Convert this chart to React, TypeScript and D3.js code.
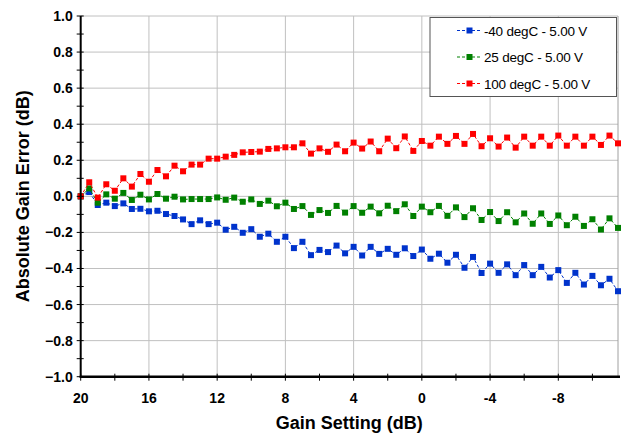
import React from "react";
import * as d3 from "d3";

const gainSettings: number[] = d3.range(64).map((i) => 20 - 0.5 * i);

const seriesNames = ["-40 degC - 5.00 V", "25 degC - 5.00 V", "100 degC - 5.00 V"];
const seriesColors = ["#0033cc", "#008000", "#ff0000"];

const coldValues = [
  0, 0.024, -0.048, -0.035, -0.054, -0.039, -0.07, -0.069, -0.083, -0.08, -0.098, -0.109, -0.128, -0.154, -0.133, -0.154,
  -0.146, -0.185, -0.169, -0.202, -0.182, -0.224, -0.207, -0.252, -0.224, -0.287, -0.252, -0.326, -0.297, -0.309, -0.273, -0.316,
  -0.28, -0.328, -0.28, -0.319, -0.291, -0.324, -0.288, -0.331, -0.295, -0.346, -0.318, -0.368, -0.324, -0.396, -0.336, -0.425,
  -0.373, -0.424, -0.377, -0.437, -0.381, -0.437, -0.391, -0.45, -0.409, -0.48, -0.424, -0.489, -0.441, -0.493, -0.457, -0.526,
];
const roomValues = [
  0, 0.044, -0.035, 0.011, -0.013, 0.019, -0.02, 0.009, -0.017, 0.013, -0.013, -0.002, -0.017, -0.015, -0.015, -0.015,
  -0.006, -0.019, -0.007, -0.03, -0.017, -0.042, -0.024, -0.055, -0.035, -0.07, -0.054, -0.103, -0.076, -0.092, -0.053, -0.09,
  -0.054, -0.091, -0.057, -0.094, -0.052, -0.082, -0.044, -0.109, -0.057, -0.088, -0.053, -0.108, -0.061, -0.115, -0.066, -0.131,
  -0.087, -0.137, -0.088, -0.144, -0.095, -0.152, -0.095, -0.153, -0.106, -0.16, -0.113, -0.164, -0.127, -0.184, -0.122, -0.175,
];
const hotValues = [
  0, 0.078, -0.007, 0.067, 0.031, 0.1, 0.054, 0.124, 0.081, 0.146, 0.111, 0.17, 0.139, 0.176, 0.176, 0.209,
  0.209, 0.22, 0.23, 0.244, 0.246, 0.248, 0.263, 0.266, 0.272, 0.272, 0.294, 0.237, 0.266, 0.247, 0.287, 0.25,
  0.298, 0.265, 0.304, 0.25, 0.32, 0.267, 0.332, 0.252, 0.307, 0.281, 0.331, 0.291, 0.335, 0.291, 0.346, 0.278,
  0.322, 0.276, 0.326, 0.27, 0.331, 0.281, 0.331, 0.281, 0.337, 0.281, 0.331, 0.281, 0.331, 0.285, 0.337, 0.294,
];

const xTicks = [20, 16, 12, 8, 4, 0, -4, -8];
const xMinorTicks = d3.range(20, -11.5, -2);
const yTicks = d3.range(-1, 1.0001, 0.2);
const yMinorTicks = d3.range(-1, 1.0001, 0.1);

const W = 623;
const H = 433;
const left = 80.7;
const right = 618;
const top = 16;
const bottom = 376.7;

export default function App() {
  const x = d3.scaleLinear().domain([20, -11.5]).range([left, right]);
  const y = d3.scaleLinear().domain([-1, 1]).range([bottom, top]);
  const allSeries = [coldValues, roomValues, hotValues];
  const line = d3
    .line<number>()
    .x((_, i) => x(gainSettings[i]))
    .y((d) => y(d));
  const font = "'Liberation Sans', Arial, sans-serif";
  const ms = 6;

  return (
    <svg width={W} height={H} style={{ position: "absolute", left: 0, top: 0, background: "#fff" }} fontFamily={font}>
      <rect x={0} y={0} width={W} height={H} fill="#fff" />
      {/* grid */}
      {yTicks.map((t, i) => (
        <line key={"gy" + i} x1={left} x2={right} y1={y(t)} y2={y(t)} stroke="#c0c0c0" strokeWidth={1} />
      ))}
      {xTicks.slice(1).map((t, i) => (
        <line key={"gx" + i} x1={x(t)} x2={x(t)} y1={top} y2={bottom} stroke="#c0c0c0" strokeWidth={1} />
      ))}
      <line x1={right} x2={right} y1={top} y2={bottom} stroke="#a0a0a0" strokeWidth={1} />
      {/* series */}
      {allSeries.map((vals, si) => (
        <g key={"s" + si}>
          <path d={line(vals) || ""} fill="none" stroke={seriesColors[si]} strokeWidth={1} strokeDasharray="3,2" />
          {vals.map((v, i) => (
            <rect
              key={i}
              x={x(gainSettings[i]) - ms / 2}
              y={y(v) - ms / 2}
              width={ms}
              height={ms}
              fill={seriesColors[si]}
            />
          ))}
        </g>
      ))}
      {/* axes */}
      <line x1={left} x2={left} y1={top} y2={bottom + 1} stroke="#000" strokeWidth={2} />
      <line x1={left - 1} x2={right + 2} y1={bottom} y2={bottom} stroke="#000" strokeWidth={2.5} />
      {yMinorTicks.map((t, i) => (
        <line key={"ty" + i} x1={left - 4} x2={left + 3} y1={y(t)} y2={y(t)} stroke="#000" strokeWidth={1} />
      ))}
      {xMinorTicks.map((t, i) => (
        <line key={"tx" + i} x1={x(t)} x2={x(t)} y1={bottom - 3} y2={bottom + 4} stroke="#000" strokeWidth={1} />
      ))}
      {yTicks.map((t, i) => (
        <text key={"ly" + i} x={left - 8} y={y(t) + 5} textAnchor="end" fontSize={14} fontWeight="bold" fill="#000">
          {d3.format(".1f")(Math.abs(t) < 1e-9 ? 0 : t)}
        </text>
      ))}
      {xTicks.map((t, i) => (
        <text key={"lx" + i} x={x(t)} y={bottom + 26} textAnchor="middle" fontSize={14} fontWeight="bold" fill="#000">
          {t}
        </text>
      ))}
      <text x={(left + right) / 2} y={429} textAnchor="middle" fontSize={18} fontWeight="bold" fill="#000">
        Gain Setting (dB)
      </text>
      <text
        transform={`translate(29, ${(top + bottom) / 2}) rotate(-90)`}
        textAnchor="middle"
        fontSize={18}
        fontWeight="bold"
        fill="#000"
      >
        Absolute Gain Error (dB)
      </text>
      {/* legend */}
      <g>
        <rect x={430} y={17.5} width={186.5} height={79} fill="#fff" stroke="#555" strokeWidth={1} />
        {seriesNames.map((name, i) => (
          <g key={"lg" + i} transform={`translate(0, ${30.5 + i * 26.5})`}>
            <line x1={457} x2={482} y1={0} y2={0} stroke={seriesColors[i]} strokeWidth={1} strokeDasharray="3,2" />
            <rect x={469.5 - ms / 2} y={-ms / 2} width={ms} height={ms} fill={seriesColors[i]} />
            <text x={484} y={5} fontSize={13.5} letterSpacing={-0.2} fill="#000">
              {name}
            </text>
          </g>
        ))}
      </g>
    </svg>
  );
}
